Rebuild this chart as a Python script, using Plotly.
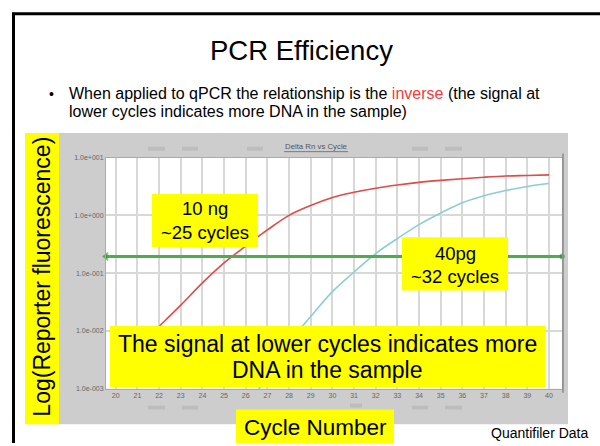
import plotly.graph_objects as go

# ---- data ----
cycles_red = list(range(20, 41))
red_rn = [0.0021, 0.0052, 0.012, 0.028, 0.068, 0.151, 0.295, 0.56, 1.0, 1.48,
          2.04, 2.51, 2.95, 3.35, 3.72, 4.03, 4.31, 4.57, 4.79, 4.90, 5.01]
cycles_cyan = list(range(26, 41))
cyan_rn = [0.0005, 0.0016, 0.0063, 0.0178, 0.048, 0.105, 0.219, 0.398, 0.692,
           1.10, 1.66, 2.19, 2.69, 3.16, 3.55]
threshold = 0.195
x_ticks = list(range(20, 41))
y_tickvals = [0.001, 0.01, 0.1, 1, 10]
y_ticktext = ["1.0e-003", "1.0e-002", "1.0e-001", "1.0e+000", "1.0e+001"]
x_range = [19.55, 40.6]

W, H = 600, 446
def px(x):
    return x / W
def py(y):
    return 1 - y / H

FONT = "Liberation Sans, Arial, sans-serif"

fig = go.Figure()
fig.add_trace(go.Scatter(x=cycles_red, y=red_rn, mode="lines",
                         line=dict(color="#e04a4a", width=1.6, shape="spline", smoothing=1.0), hoverinfo="skip"))
fig.add_trace(go.Scatter(x=cycles_cyan, y=cyan_rn, mode="lines",
                         line=dict(color="#8ccfd0", width=1.6, shape="spline", smoothing=1.0), hoverinfo="skip"))
fig.add_trace(go.Scatter(x=x_range, y=[threshold, threshold], mode="lines+markers",
                         line=dict(color="#50aa50", width=3),
                         marker=dict(symbol=["triangle-left", "circle"], size=[7, 5], color="#3a8a3a"),
                         hoverinfo="skip", cliponaxis=False))

shapes = []
# gray screenshot background
shapes.append(dict(type="rect", xref="paper", yref="paper", x0=px(42), x1=px(568), y0=py(427), y1=py(131),
                   fillcolor="#cdcdcd", line=dict(width=0), layer="below"))
# white plot area
shapes.append(dict(type="rect", xref="paper", yref="paper", x0=px(106), x1=px(562), y0=py(391), y1=py(156),
                   fillcolor="white", line=dict(width=0), layer="below"))
# faint toolbar remnants in the screenshot
for (a, b, yy) in [(148, 165, 147), (182, 198, 147), (247, 263, 147), (412, 428, 147), (445, 462, 147),
                   (148, 165, 410), (182, 198, 410), (350, 362, 408), (412, 428, 410), (445, 462, 410)]:
    shapes.append(dict(type="rect", xref="paper", yref="paper", x0=px(a), x1=px(b), y0=py(yy + 2), y1=py(yy - 2),
                       fillcolor="#bdbdbd", line=dict(width=0), layer="below"))
# right dark edge of screenshot plot
shapes.append(dict(type="line", xref="paper", yref="paper", x0=px(563), x1=px(563), y0=py(395), y1=py(152),
                   line=dict(color="#8a8a8a", width=1.5)))
# slide border lines
shapes.append(dict(type="line", xref="paper", yref="paper", x0=px(12), x1=px(600), y0=py(10), y1=py(10),
                   line=dict(color="black", width=3)))
shapes.append(dict(type="line", xref="paper", yref="paper", x0=px(13.5), x1=px(13.5), y0=py(9), y1=py(446),
                   line=dict(color="black", width=3)))
# underline of chart title
shapes.append(dict(type="line", xref="paper", yref="paper", x0=px(284), x1=px(348), y0=py(150), y1=py(150),
                   line=dict(color="#666", width=0.8)))
# yellow boxes
def ybox(x0, y0, x1, y1):
    shapes.append(dict(type="rect", xref="paper", yref="paper", x0=px(x0), x1=px(x1), y0=py(y1), y1=py(y0),
                       fillcolor="#ffff00", line=dict(width=0), layer="above"))
ybox(25, 131, 59, 427)
ybox(152, 193, 258, 247)
ybox(402, 237, 508, 291)
ybox(110, 327, 545, 389)
ybox(236, 412, 394, 446)

annotations = []
def ann(x, y, text, size, color="black", **kw):
    d = dict(xref="paper", yref="paper", x=px(x), y=py(y), text=text, showarrow=False,
             font=dict(family=FONT, size=size, color=color), xanchor="center", yanchor="middle")
    d.update(kw)
    annotations.append(d)

ann(301, 47, "PCR Efficiency", 27.5)
ann(51, 91, "•", 14)
ann(67, 91, "When applied to qPCR the relationship is the <span style='color:#f03c3c'>inverse</span> (the signal at",
    16, xanchor="left")
ann(67, 109, "lower cycles indicates more DNA in the sample)", 16, xanchor="left")
ann(316, 145, "Delta Rn vs Cycle", 7.8, color="#555")
ann(42, 277, "Log(Reporter fluorescence)", 23, textangle=-90)
ann(205, 208, "10 ng", 18.5)
ann(205, 232, "~25 cycles", 18.5)
ann(455, 253, "40pg", 18.5)
ann(455, 277, "~32 cycles", 18.5)
ann(327, 345, "The signal at lower cycles indicates more", 23)
ann(327, 372, "DNA in the sample", 23)
ann(315, 430, "Cycle Number", 22.5, borderpad=0)
ann(539, 436, "Quantifiler Data", 14, borderpad=0)

fig.update_layout(
    width=W, height=H, autosize=False,
    margin=dict(l=0, r=0, t=0, b=0),
    paper_bgcolor="white", plot_bgcolor="white",
    showlegend=False,
    shapes=shapes, annotations=annotations,
    xaxis=dict(domain=[px(106), px(562)], range=x_range, tickvals=x_ticks, ticks="",
               tickfont=dict(family=FONT, size=7, color="#666"), showgrid=True, gridcolor="#d8d8d8", gridwidth=1.5,
               showline=True, mirror=True, linecolor="#aaa", linewidth=1, zeroline=False),
    yaxis=dict(domain=[py(391), py(156)], type="log", range=[-3, 1], tickvals=y_tickvals, ticktext=y_ticktext,
               ticks="", tickfont=dict(family=FONT, size=7, color="#666"), showgrid=True, gridcolor="#d8d8d8",
               gridwidth=1.5, showline=True, mirror=True, linecolor="#aaa", linewidth=1, zeroline=False),
)

fig.write_html("out.html", config={"displayModeBar": False},
               post_script="document.body.style.margin='0';document.body.style.overflow='hidden';")
